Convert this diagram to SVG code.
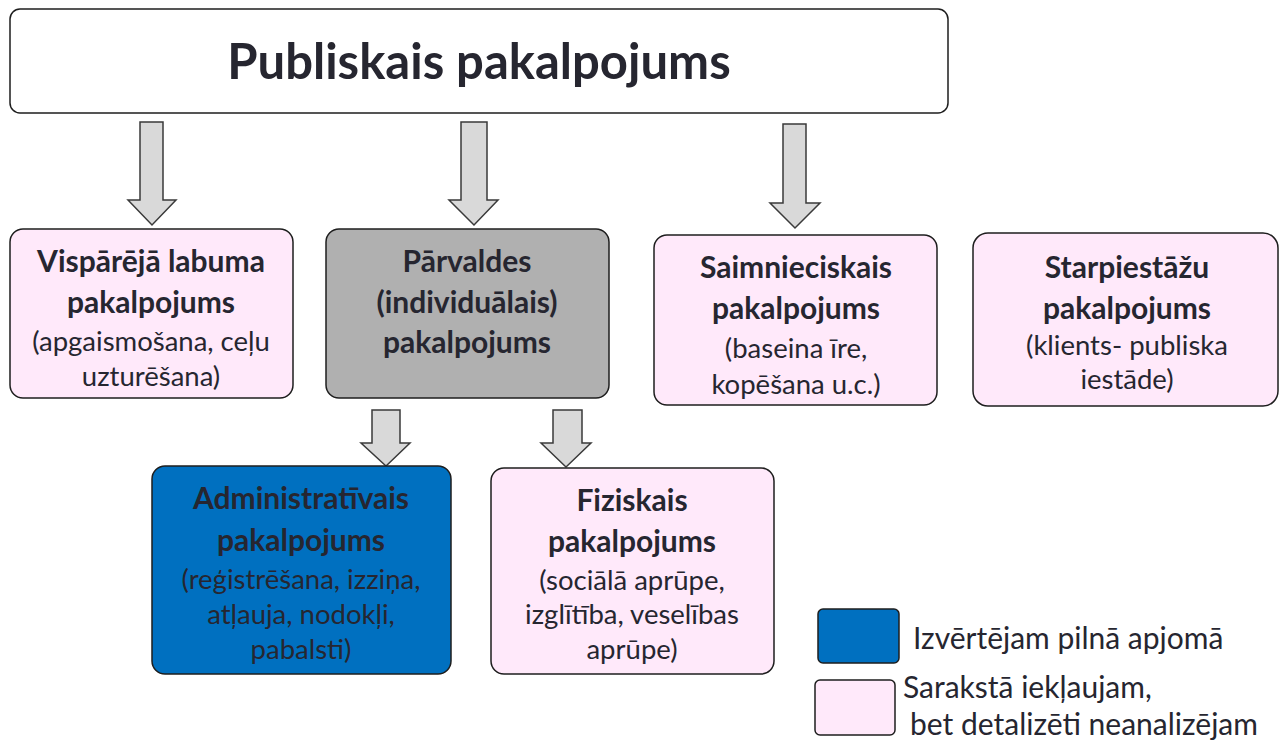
<svg xmlns="http://www.w3.org/2000/svg" width="1279" height="742" viewBox="0 0 1279 742">
<style>
.box{stroke:#1e1e1e;stroke-width:1.5}
.pink{fill:#ffe9fa}
.gray{fill:#b0b0b0}
.blue{fill:#0070c0}
.white{fill:#ffffff}
.arrow{fill:#d9d9d9;stroke:#3a3a3a;stroke-width:1.5}
text{font-family:Lato,"Open Sans","Noto Sans",sans-serif;fill:#262630}
.t{font-size:49px;font-weight:bold}
.b{font-size:30px;font-weight:bold}
.r{font-size:27.5px}
.l{font-size:30px}
.c{text-anchor:middle}
</style>
<g id="title">
<rect class="box white" x="10" y="9" width="938" height="104" rx="10"/>
<text class="t c" x="479" y="79">Publiskais pakalpojums</text>
</g>
<g id="connectors">
<path class="arrow" d="M140,122 H163 V200 H176 L152,225 L128,200 H140 Z"/>
<path class="arrow" d="M461,122 H487 V200 H498 L474,225 L449,200 H461 Z"/>
<path class="arrow" d="M783,124 H806 V203 H820 L795,228 L770,203 H783 Z"/>
<path class="arrow" d="M372,410 H400 V443 H410 L386,466 L361,443 H372 Z"/>
<path class="arrow" d="M553,410 H582 V443 H591 L566,467 L541,443 H553 Z"/>
</g>
<g id="vispareja">
<rect class="box pink" x="10" y="229" width="283" height="169" rx="13"/>
<text class="b c" x="151" y="272">Vispārējā labuma</text>
<text class="b c" x="151" y="313">pakalpojums</text>
<text class="r c" x="151" y="351">(apgaismošana, ceļu</text>
<text class="r c" x="151" y="386">uzturēšana)</text>
</g>
<g id="parvaldes">
<rect class="box gray" x="326" y="229" width="283" height="169" rx="13"/>
<text class="b c" x="467" y="272">Pārvaldes</text>
<text class="b c" x="467" y="313">(individuālais)</text>
<text class="b c" x="467" y="353">pakalpojums</text>
</g>
<g id="saimnieciskais">
<rect class="box pink" x="654" y="235" width="283" height="170" rx="13"/>
<text class="b c" x="796" y="278">Saimnieciskais</text>
<text class="b c" x="796" y="319">pakalpojums</text>
<text class="r c" x="796" y="358">(baseina īre,</text>
<text class="r c" x="796" y="394">kopēšana u.c.)</text>
</g>
<g id="starpiestazu">
<rect class="box pink" x="973" y="233" width="305" height="173" rx="15"/>
<text class="b c" x="1127" y="278">Starpiestāžu</text>
<text class="b c" x="1127" y="319">pakalpojums</text>
<text class="r c" x="1127" y="355">(klients- publiska</text>
<text class="r c" x="1127" y="389">iestāde)</text>
</g>
<g id="administrativais">
<rect class="box blue" x="152" y="466" width="299" height="208" rx="13"/>
<text class="b c" x="301" y="509">Administratīvais</text>
<text class="b c" x="301" y="551">pakalpojums</text>
<text class="r c" x="301" y="589">(reģistrēšana, izziņa,</text>
<text class="r c" x="301" y="624">atļauja, nodokļi,</text>
<text class="r c" x="301" y="659">pabalsti)</text>
</g>
<g id="fiziskais">
<rect class="box pink" x="491" y="468" width="283" height="206" rx="13"/>
<text class="b c" x="632" y="511">Fiziskais</text>
<text class="b c" x="632" y="552">pakalpojums</text>
<text class="r c" x="632" y="590">(sociālā aprūpe,</text>
<text class="r c" x="632" y="624">izglītība, veselības</text>
<text class="r c" x="632" y="659">aprūpe)</text>
</g>
<g id="legend">
<rect class="box blue" x="818" y="609" width="81" height="54" rx="5"/>
<text class="l" x="913" y="649">Izvērtējam pilnā apjomā</text>
<rect class="box pink" x="815" y="680" width="80" height="55" rx="5"/>
<text class="l" x="903" y="698">Sarakstā iekļaujam,</text>
<text class="l" x="910" y="735">bet detalizēti neanalizējam</text>
</g>
</svg>
